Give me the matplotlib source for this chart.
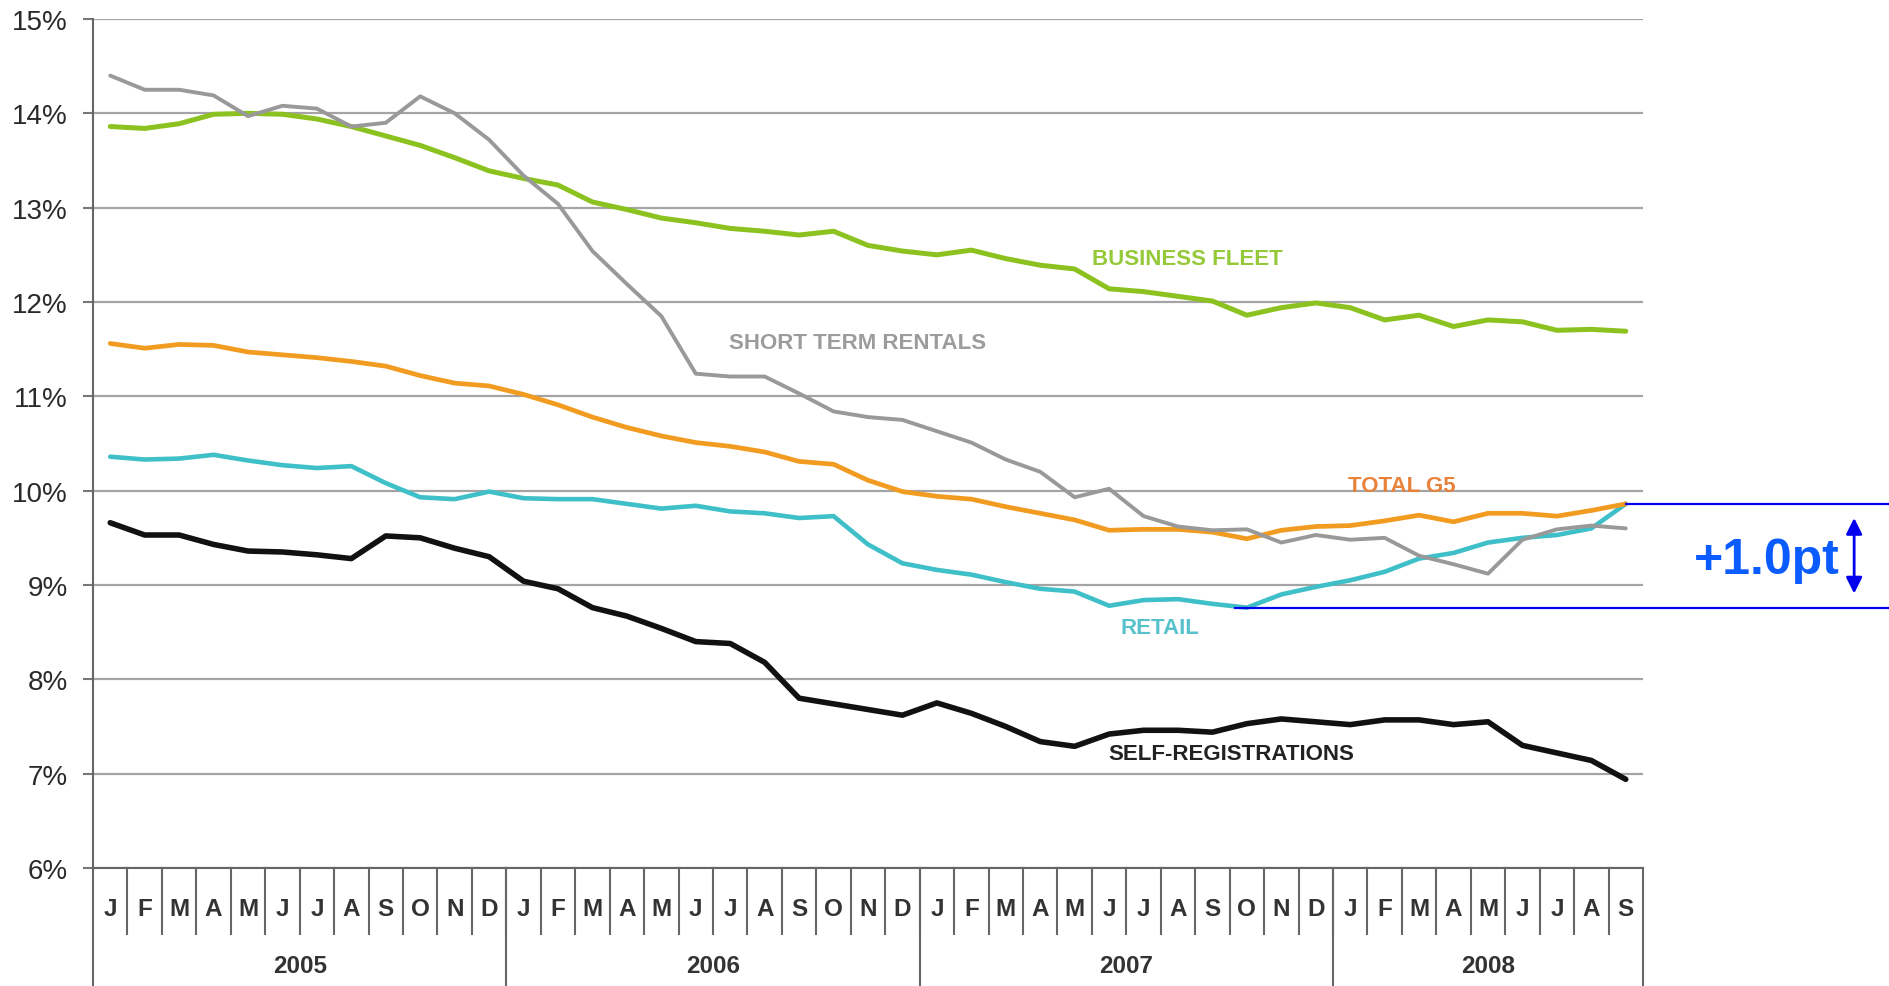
import matplotlib
matplotlib.use('Agg')
import matplotlib.pyplot as plt
import matplotlib.transforms as mtransforms
from matplotlib.ticker import FuncFormatter

plt.rcParams['font.family'] = ['Liberation Sans', 'DejaVu Sans']

# monthly share, Jan 2005 .. Sep 2008
months = ['J', 'F', 'M', 'A', 'M', 'J', 'J', 'A', 'S', 'O', 'N', 'D'] * 3 + \
         ['J', 'F', 'M', 'A', 'M', 'J', 'J', 'A', 'S']
years = ['2005', '2006', '2007', '2008']
year_len = [12, 12, 12, 9]

business_fleet = [13.86, 13.84, 13.89, 13.99, 14.00, 13.99, 13.94, 13.86, 13.76, 13.66, 13.53, 13.39,
                  13.31, 13.24, 13.06, 12.98, 12.89, 12.84, 12.78, 12.75, 12.71, 12.75, 12.60, 12.54,
                  12.50, 12.55, 12.46, 12.39, 12.35, 12.14, 12.11, 12.06, 12.01, 11.86, 11.94, 11.99,
                  11.94, 11.81, 11.86, 11.74, 11.81, 11.79, 11.70, 11.71, 11.69]
short_term = [14.40, 14.25, 14.25, 14.19, 13.97, 14.08, 14.05, 13.86, 13.90, 14.18, 14.00, 13.72,
              13.34, 13.04, 12.54, 12.19, 11.85, 11.24, 11.21, 11.21, 11.03, 10.84, 10.78, 10.75,
              10.63, 10.51, 10.33, 10.20, 9.93, 10.02, 9.73, 9.62, 9.58, 9.59, 9.45, 9.53,
              9.48, 9.50, 9.31, 9.22, 9.12, 9.48, 9.59, 9.63, 9.60]
total_g5 = [11.56, 11.51, 11.55, 11.54, 11.47, 11.44, 11.41, 11.37, 11.32, 11.22, 11.14, 11.11,
            11.02, 10.91, 10.78, 10.67, 10.58, 10.51, 10.47, 10.41, 10.31, 10.28, 10.11, 9.99,
            9.94, 9.91, 9.83, 9.76, 9.69, 9.58, 9.59, 9.59, 9.56, 9.49, 9.58, 9.62,
            9.63, 9.68, 9.74, 9.67, 9.76, 9.76, 9.73, 9.79, 9.86]
retail = [10.36, 10.33, 10.34, 10.38, 10.32, 10.27, 10.24, 10.26, 10.08, 9.93, 9.91, 9.99,
          9.92, 9.91, 9.91, 9.86, 9.81, 9.84, 9.78, 9.76, 9.71, 9.73, 9.43, 9.23,
          9.16, 9.11, 9.03, 8.96, 8.93, 8.78, 8.84, 8.85, 8.80, 8.76, 8.90, 8.98,
          9.05, 9.14, 9.28, 9.34, 9.45, 9.50, 9.53, 9.60, 9.86]
self_reg = [9.66, 9.53, 9.53, 9.43, 9.36, 9.35, 9.32, 9.28, 9.52, 9.50, 9.39, 9.30,
            9.04, 8.96, 8.76, 8.67, 8.54, 8.40, 8.38, 8.18, 7.80, 7.74, 7.68, 7.62,
            7.75, 7.64, 7.50, 7.34, 7.29, 7.42, 7.46, 7.46, 7.44, 7.53, 7.58, 7.55,
            7.52, 7.57, 7.57, 7.52, 7.55, 7.30, 7.22, 7.14, 6.94]

fig = plt.figure(figsize=(18.89, 9.87), dpi=100)
ax = fig.add_axes([93 / 1889, 118 / 987, 1550 / 1889, 849 / 987])
x = list(range(len(months)))

for yv in range(6, 16):
    ax.axhline(yv, color='#a4a4a4', lw=1.6, zorder=1)

ax.plot(x, self_reg, color='#111111', lw=4.0, solid_joinstyle='round', solid_capstyle='round', zorder=3)
ax.plot(x, retail, color='#3fbfc8', lw=3.3, solid_joinstyle='round', solid_capstyle='round', zorder=4)
ax.plot(x, total_g5, color='#f29b21', lw=3.4, solid_joinstyle='round', solid_capstyle='round', zorder=5)
ax.plot(x, business_fleet, color='#8cc21f', lw=3.6, solid_joinstyle='round', solid_capstyle='round', zorder=6)
ax.plot(x, short_term, color='#999999', lw=2.8, solid_joinstyle='round', solid_capstyle='round', zorder=7)

ax.set_xlim(-0.5, len(months) - 0.5)
ax.set_ylim(6, 15)
ax.set_xticks([])
ax.set_yticks(range(6, 16))
ax.yaxis.set_major_formatter(FuncFormatter(lambda v, p: '%d%%' % v))
ax.tick_params(axis='y', length=7, width=1.5, color='#777777', labelsize=20,
               labelcolor='#2a2a2a', pad=11)
for s in ['top', 'right']:
    ax.spines[s].set_visible(False)
for s in ['left', 'bottom']:
    ax.spines[s].set_color('#666666')
    ax.spines[s].set_linewidth(1.5)

# month / year table under the axis
trans = mtransforms.blended_transform_factory(ax.transData, ax.transAxes)
for i, m in enumerate(months):
    ax.text(i, -0.048, m, transform=trans, ha='center', va='center',
            fontsize=17.5, fontweight='bold', color='#333333')
    if i > 0:
        ax.plot([i - 0.5, i - 0.5], [0, -0.078], transform=trans, clip_on=False,
                color='#666666', lw=1.5)
start = -0.5
for y, n in zip(years, year_len):
    ax.plot([start, start], [0, -0.14], transform=trans, clip_on=False, color='#666666', lw=1.5)
    ax.text(start + n / 2, -0.115, y, transform=trans, ha='center', va='center',
            fontsize=17.5, fontweight='bold', color='#333333')
    start += n
ax.plot([start, start], [0, -0.14], transform=trans, clip_on=False, color='#666666', lw=1.5)

# series labels
ax.text(31.27, 12.46, 'BUSINESS FLEET', color='#95c93a', fontsize=16, fontweight='bold',
        ha='center', va='center')
ax.text(21.71, 11.57, 'SHORT TERM RENTALS', color='#9c9c9c', fontsize=16, fontweight='bold',
        ha='center', va='center')
ax.text(37.5, 10.06, 'TOTAL G5', color='#e8823a', fontsize=16, fontweight='bold',
        ha='center', va='center')
ax.text(30.48, 8.55, 'RETAIL', color='#58c2cc', fontsize=16, fontweight='bold',
        ha='center', va='center')
ax.text(32.54, 7.21, 'SELF-REGISTRATIONS', color='#222222', fontsize=16, fontweight='bold',
        ha='center', va='center')

# +1.0pt annotation
lo = min(retail)
lo_i = retail.index(lo)
hi = max(total_g5[-1], retail[-1])
ax.plot([lo_i - 0.35, 53], [lo, lo], color='#0000ee', lw=1.6, clip_on=False, zorder=8)
ax.plot([len(months) - 1, 53], [hi, hi], color='#0000ee', lw=1.6, clip_on=False, zorder=8)
ax.annotate('', xy=(50.63, hi - 0.12), xytext=(50.63, lo + 0.12),
            arrowprops=dict(arrowstyle='<|-|>', color='#0000ee', lw=2, mutation_scale=24),
            annotation_clip=False)
ax.text(48.1, 9.27, '+1.0pt', color='#0a5cff', fontsize=36, fontweight='bold',
        ha='center', va='center', clip_on=False)

fig.savefig('out.png', dpi=100)
